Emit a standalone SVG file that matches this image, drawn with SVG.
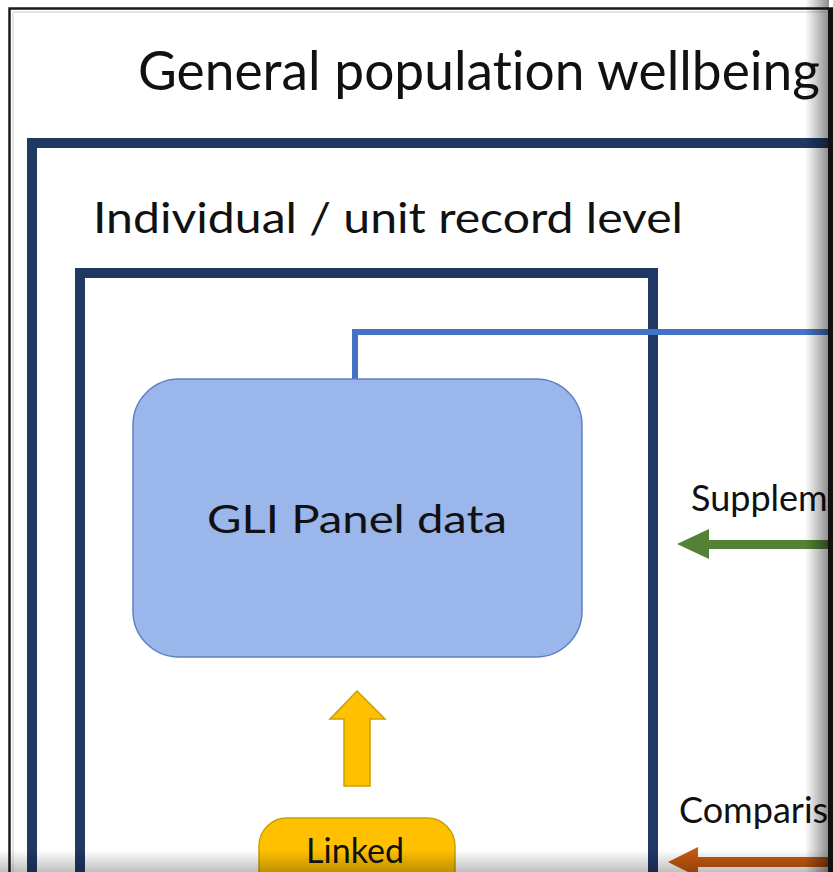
<svg xmlns="http://www.w3.org/2000/svg" width="833" height="872" viewBox="0 0 833 872">
  <defs>
    <style>
      .frame { fill: none; stroke: #203864; stroke-width: 10; }
      .label { font-family: Lato, "Open Sans", "Liberation Sans", sans-serif; fill: #111; font-variant-ligatures: none; }
      .conn { fill: none; stroke: #4472C4; stroke-width: 6; }
    </style>
    <linearGradient id="edgeShadeR" x1="0" y1="0" x2="1" y2="0">
      <stop offset="0" stop-color="#000" stop-opacity="0"/>
      <stop offset="1" stop-color="#000" stop-opacity="0.45"/>
    </linearGradient>
    <linearGradient id="edgeShadeB" x1="0" y1="0" x2="0" y2="1">
      <stop offset="0" stop-color="#000" stop-opacity="0"/>
      <stop offset="1" stop-color="#000" stop-opacity="0.25"/>
    </linearGradient>
  </defs>

  <rect x="0" y="0" width="833" height="872" fill="#fff"/>

  <!-- page edge -->
  <path d="M9.5,872 V8.5 H833" fill="none" stroke="#1a1a1a" stroke-width="2.5"/>
  <path d="M13,872 V12 H826" fill="none" stroke="#e6e6e6" stroke-width="2"/>

  <g id="title">
    <text class="label" x="138" y="90" font-size="54" textLength="682" lengthAdjust="spacingAndGlyphs">General population wellbeing</text>
  </g>

  <g id="population-frame">
    <path class="frame" d="M32,880 V143 H840"/>
  </g>

  <g id="individual-frame">
    <text class="label" x="93" y="233" font-size="42" textLength="590" lengthAdjust="spacingAndGlyphs">Individual / unit record level</text>
    <path class="frame" d="M80,880 V273 H653 V880"/>
  </g>

  <g id="connectors">
    <path class="conn" d="M355,380 V332 H840"/>
    <polygon points="357,691 385,719 370,719 370,786 344,786 344,719 330,719" fill="#FFC000" stroke="#C9A000" stroke-width="1.5"/>
    <polygon points="677,544 709,529 709,540 840,540 840,549 709,549 709,559" fill="#548235"/>
    <polygon points="668,862 698,847 698,857 840,857 840,867 698,867 698,877" fill="#C55A11"/>
  </g>

  <g id="gli-panel">
    <rect x="133" y="379" width="449" height="278" rx="46" fill="#9BB6EA" stroke="#5F80C4" stroke-width="1.5"/>
    <text class="label" x="357" y="533" font-size="39" text-anchor="middle" textLength="300" lengthAdjust="spacingAndGlyphs">GLI Panel data</text>
  </g>

  <g id="linked">
    <rect x="259" y="818" width="196" height="90" rx="28" fill="#FFC000" stroke="#C9A000" stroke-width="1.5"/>
    <text class="label" x="355" y="863" font-size="34" text-anchor="middle">Linked</text>
  </g>

  <g id="supplementary-label">
    <text class="label" x="691" y="511" font-size="36">Supplem</text>
  </g>

  <g id="comparison-label">
    <text class="label" x="679" y="823" font-size="36">Comparis</text>
  </g>

  <!-- shading along the right and bottom edges -->
  <rect x="805" y="0" width="24" height="872" fill="url(#edgeShadeR)"/>
  <rect x="828" y="8" width="5" height="864" fill="#111"/>
  <rect x="0" y="850" width="828" height="22" fill="url(#edgeShadeB)"/>
</svg>
